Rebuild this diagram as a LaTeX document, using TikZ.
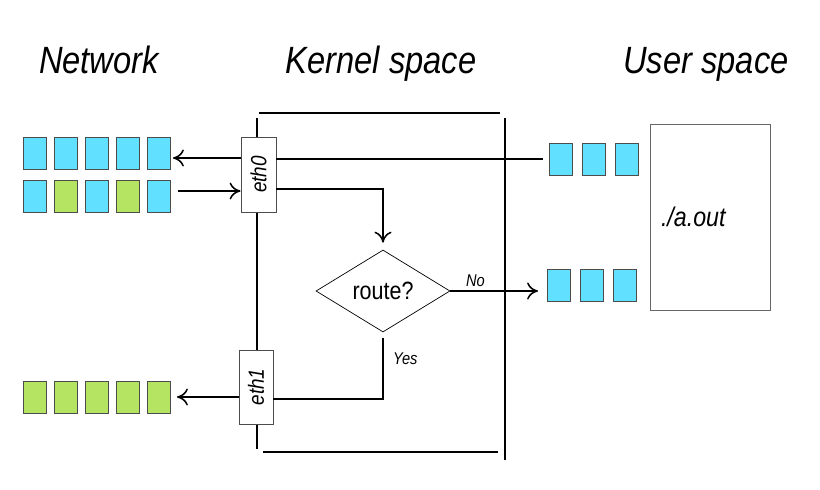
\documentclass[tikz,border=0pt]{standalone}
\usepackage{fontspec}
\setmainfont{Liberation Sans}[FakeStretch=0.86]
\usetikzlibrary{shapes.geometric,arrows.meta}
\definecolor{pktblue}{HTML}{62E0FF}
\definecolor{pktgreen}{HTML}{B5E462}

\begin{document}
\begin{tikzpicture}[x=1pt,y=-1pt,
  pkt/.style={draw=black!70, line width=0.8pt, minimum width=23pt, minimum height=32pt, inner sep=0pt},
  iface/.style={draw=black!70, fill=white, line width=0.8pt, minimum width=35pt, minimum height=75pt, inner sep=0pt, font=\fontsize{22}{24}\selectfont\itshape},
  wire/.style={line width=1.5pt},
  arr/.style={wire, -{Computer Modern Rightarrow[length=11pt,width=17pt]}},
  small/.style={font=\fontsize{17}{19}\selectfont\itshape},
  title/.style={anchor=base, font=\fontsize{38}{40}\selectfont\itshape}]

\useasboundingbox (0,0) rectangle (820,490);

% titles
\node[title] (tnet) at (99,73) {Network};
\node[title] (tkern) at (381,73) {Kernel space};
\node[title] (tuser) at (706,73) {User space};

% kernel box, hand drawn sides
\draw[wire] (259,113) -- (500,113);
\draw[wire] (257,118) -- (257,449);
\draw[wire] (263,452) -- (498,452);
\draw[wire] (505,118) -- (505,460);

% packets on the wire
\foreach \c [count=\i] in {pktblue,pktblue,pktblue,pktblue,pktblue}
  \node[pkt, fill=\c] (a\i) at ({4+31*\i},153.5) {};
\foreach \c [count=\i] in {pktblue,pktgreen,pktblue,pktgreen,pktblue}
  \node[pkt, fill=\c] (b\i) at ({4+31*\i},196) {};
\foreach \c [count=\i] in {pktgreen,pktgreen,pktgreen,pktgreen,pktgreen}
  \node[pkt, fill=\c] (c\i) at ({4+31*\i},397) {};

% packets in user space
\foreach \i in {1,2,3}
  \node[pkt, fill=pktblue] (u\i) at ({528+33*\i},159) {};
\foreach \i in {1,2,3}
  \node[pkt, fill=pktblue] (v\i) at ({526+33*\i},285.5) {};

\node[draw=black!60, line width=1pt, minimum width=120pt, minimum height=186pt, text width=98pt, align=left, font=\fontsize{27}{29}\selectfont\itshape] (aout) at (710,217) {./a.out};

% interfaces and routing
\node[iface] (eth0) at (258.5,174.5) {\rotatebox{90}{eth0}};
\node[iface, minimum width=34pt, minimum height=74pt] (eth1) at (256,387) {\rotatebox{90}{eth1}};
\node[diamond, draw, line width=0.7pt, minimum width=134pt, minimum height=82pt, inner sep=0pt, aspect=1.6, font=\fontsize{25}{27}\selectfont] (route) at (383,291) {route?};

\draw[arr, shorten >=2pt] (eth0.west |- 0,158) -- (a5.east |- 0,158);
\draw[arr, shorten <=7pt] (b5.east |- 0,191) -- (eth0.west |- 0,191);
\draw[wire, shorten >=6pt] (eth0.east |- u1) -- (u1.west);
\draw[arr, shorten >=7pt] (eth0.east |- 0,189) -| (route.north);
\draw[arr, shorten >=9pt] (route.east) -- (v1.west |- route.east) node[small, pos=0.26, above] {No};
\draw[wire, shorten <=6pt] (route.south) |- (eth1.east |- 0,399) node[small, pos=0.2, right=6pt] {Yes};
\draw[arr, shorten >=6pt] (eth1.west |- 0,397) -- (c5.east |- 0,397);
\end{tikzpicture}
\end{document}
